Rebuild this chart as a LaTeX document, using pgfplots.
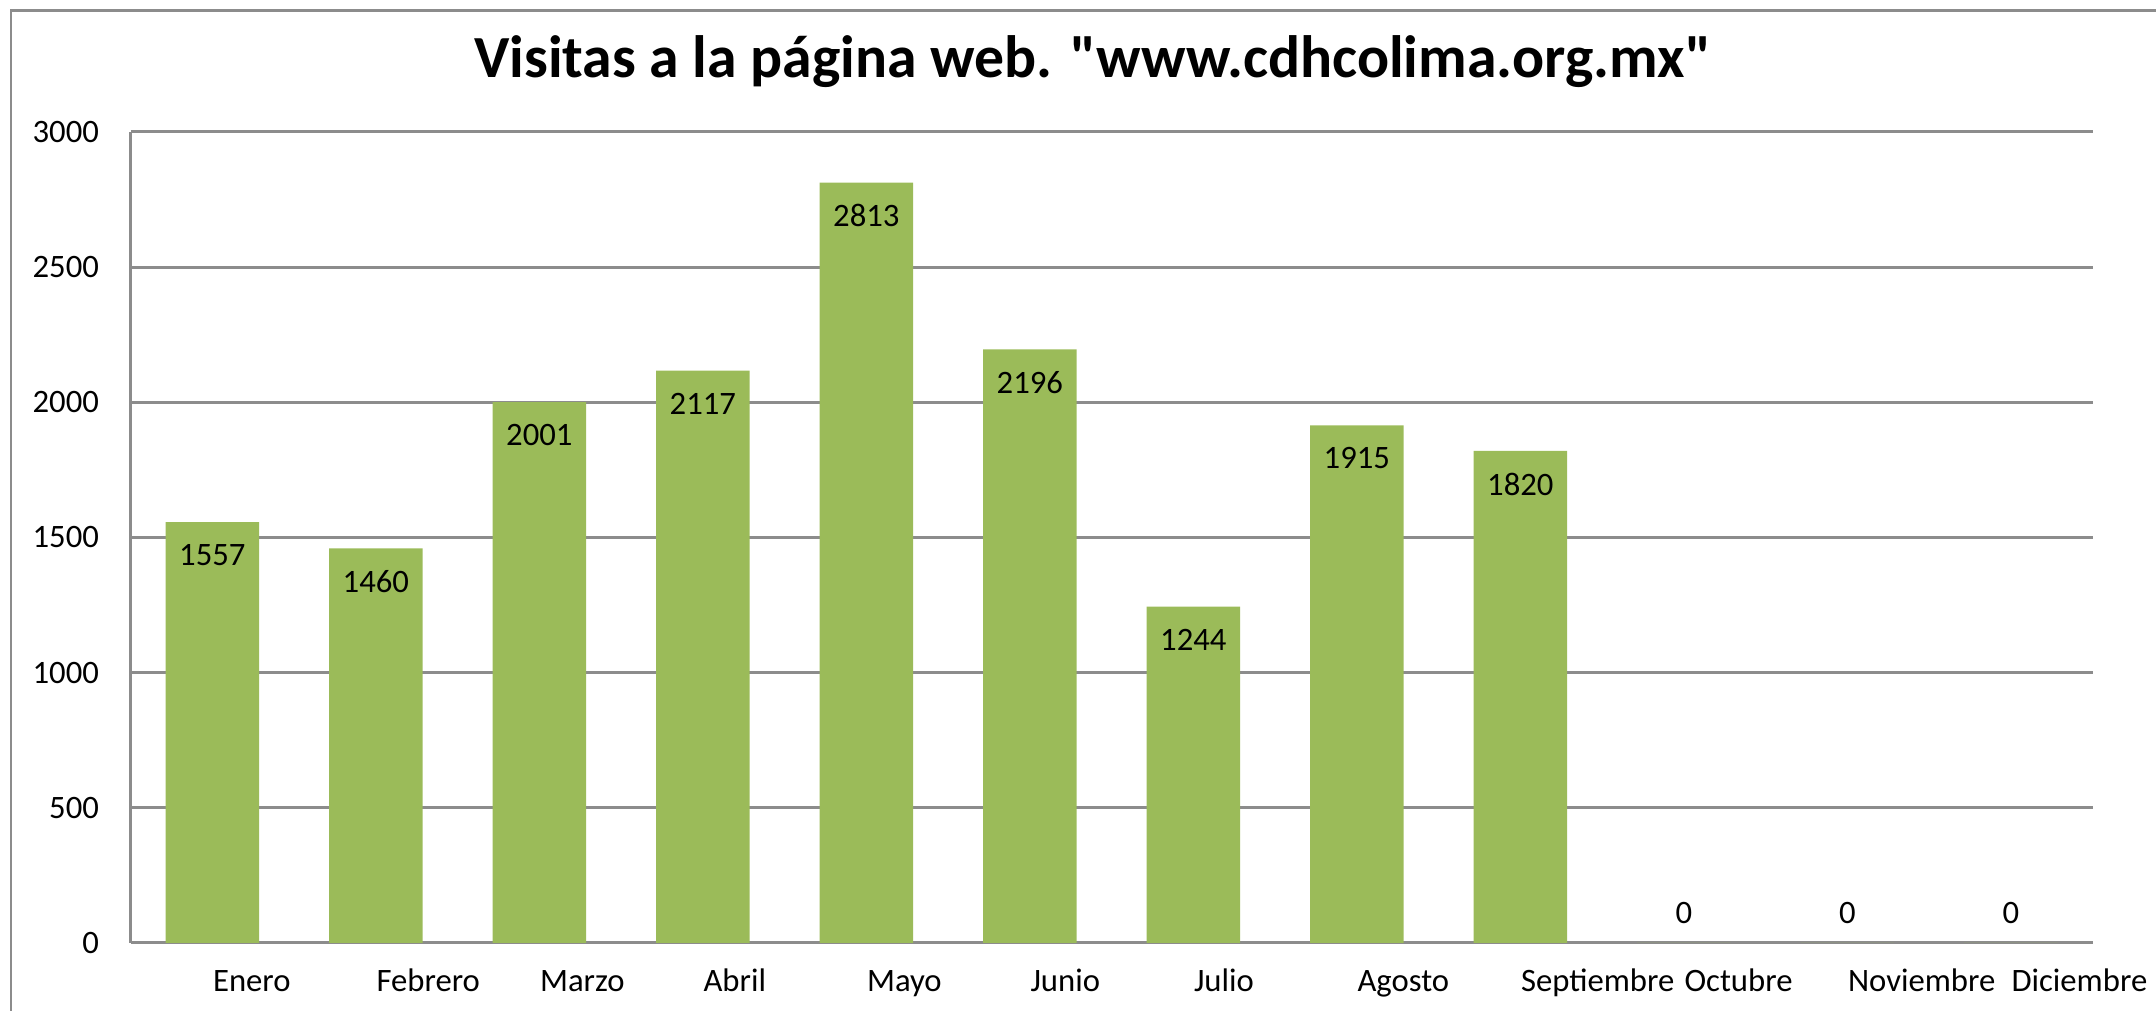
\documentclass[border=0pt]{standalone}
\usepackage{fontspec}
\setmainfont{Carlito}
\newfontfamily\titlefont{Carlito}
\usepackage{pgfplots}
\pgfplotsset{compat=1.18}
\definecolor{bargreen}{HTML}{9BBB59}
\definecolor{gridgray}{HTML}{8C8C8C}
\begin{document}
\begin{tikzpicture}
\pgfkeys{/pgf/number format/.cd, 1000 sep={}, assume math mode=true}
\begin{axis}[
  name=ax,
  at={(0,0)}, anchor=south west,
  scale only axis,
  width=19.62cm, height=8.11cm,
  ybar, bar shift=0pt, bar width=0.572,
  xmin=-0.5, xmax=11.5,
  ymin=0, ymax=3000,
  ytick={0,500,1000,1500,2000,2500,3000},
  xtick={0,1,2,3,4,5,6,7,8,9,10,11},
  xticklabels={Enero,Febrero,Marzo,Abril,Mayo,Junio,Julio,Agosto,Septiembre,Octubre,Noviembre,Diciembre},
  xticklabel style={font=\fontsize{9.3}{11}\selectfont, anchor=west, inner xsep=0pt,
    text height=1.5ex, text depth=0.45ex, yshift=-0.40cm},
  yticklabel style={font=\fontsize{9.3}{11}\selectfont, anchor=east, inner xsep=0pt, xshift=-0.31cm},
  axis x line=bottom, axis y line=left,
  axis line style={draw=gridgray, line width=0.85pt, -},
  major tick length=0pt,
  ymajorgrids=true,
  major grid style={draw=gridgray, line width=0.85pt},
  nodes near coords,
  every node near coord/.append style={font=\fontsize{9.3}{11}\selectfont, text=black},
  clip=false,
]
% enero a septiembre
\addplot[fill=bargreen, draw=none,
  every node near coord/.append style={anchor=center, yshift=-0.33cm}]
  coordinates {(0,1557) (1,1460) (2,2001) (3,2117) (4,2813) (5,2196) (6,1244) (7,1915) (8,1820)};
% octubre a diciembre, sin visitas
\addplot[fill=bargreen, draw=none,
  every node near coord/.append style={anchor=center, yshift=0.30cm}]
  coordinates {(9,0) (10,0) (11,0)};
\end{axis}
\node[font=\titlefont\bfseries\fontsize{17}{20}\selectfont] at (9.62,8.81)
  {Visitas a la página web. "www.cdhcolima.org.mx"};
\draw[gridgray, line width=0.85pt] (-1.196,-1) -- (-1.196,9.32) -- (20.6,9.32);
\pgfresetboundingbox
\useasboundingbox (-1.306,-0.68) rectangle (20.254,9.43);
\end{tikzpicture}
\end{document}
